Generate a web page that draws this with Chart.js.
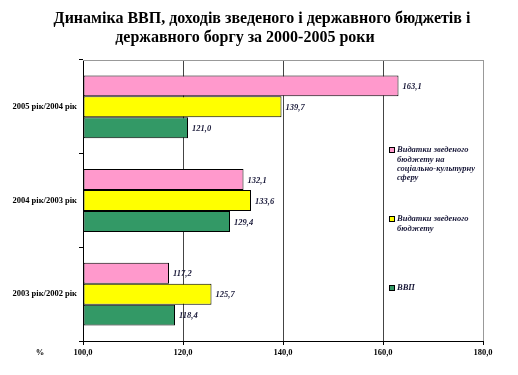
<!DOCTYPE html>
<html>
<head>
<meta charset="utf-8">
<script src="https://cdn.jsdelivr.net/npm/chart.js@4"></script>
<style>
  body { margin: 0; background: #fff; }
  #wrap { width: 518px; height: 375px; }
</style>
</head>
<body>
<div id="wrap"><canvas id="chart" width="518" height="375"></canvas></div>
<script>
// data
const categories = ["2005 рік/2004 рік", "2004 рік/2003 рік", "2003 рік/2002 рік"];
const socialSpending = [163.1, 132.1, 117.2];
const budgetSpending = [139.7, 133.6, 125.7];
const gdp = [121.0, 129.4, 118.4];
const seriesNames = [
  ["Видатки зведеного", "бюджету на", "соціально-культурну", "сферу"],
  ["Видатки зведеного", "бюджету"],
  ["ВВП"]
];
const titleLines = [
  "Динаміка ВВП, доходів зведеного і державного бюджетів і",
  "державного боргу за 2000-2005 роки"
];
const xTicks = [100, 120, 140, 160, 180];
const unitLabel = "%";

const SERIF = "'Liberation Serif', 'Times New Roman', serif";
const INK = "#1a1a3a";

function fmt(v) {
  return v.toFixed(1).replace(".", ",");
}

// value labels at the end of each bar
const barLabels = {
  id: "barLabels",
  afterDatasetsDraw(chart) {
    const ctx = chart.ctx;
    ctx.save();
    ctx.font = "italic bold 8.5px " + SERIF;
    ctx.fillStyle = INK;
    ctx.textBaseline = "middle";
    ctx.textAlign = "left";
    chart.data.datasets.forEach((ds, i) => {
      chart.getDatasetMeta(i).data.forEach((bar, j) => {
        ctx.fillText(fmt(ds.data[j]), bar.x + 4, bar.y + 1);
      });
    });
    ctx.restore();
  }
};

// title, top frame line, "%" unit label and the legend inside the plot
const extras = {
  id: "extras",
  afterDraw(chart) {
    const ctx = chart.ctx;
    const a = chart.chartArea;
    ctx.save();

    ctx.font = "bold 16px " + SERIF;
    ctx.fillStyle = "#000";
    ctx.textAlign = "center";
    ctx.textBaseline = "alphabetic";
    ctx.fillText(titleLines[0], 262, 23);
    ctx.fillText(titleLines[1], 245, 42);

    ctx.strokeStyle = "#999";
    ctx.lineWidth = 1;
    ctx.beginPath();
    ctx.moveTo(a.left, a.top + 0.5);
    ctx.lineTo(a.right, a.top + 0.5);
    ctx.stroke();

    ctx.font = "bold 8.5px " + SERIF;
    ctx.textBaseline = "middle";
    ctx.fillText(unitLabel, 40, a.bottom + 12);

    // legend
    ctx.font = "italic bold 8.5px " + SERIF;
    ctx.textAlign = "left";
    let y = 150;
    chart.data.datasets.forEach((ds, i) => {
      ctx.fillStyle = ds.backgroundColor;
      ctx.fillRect(389, y - 3, 6, 6);
      ctx.strokeStyle = "#000";
      ctx.strokeRect(389.5, y - 2.5, 5, 5);
      ctx.fillStyle = INK;
      seriesNames[i].forEach((line, k) => {
        ctx.fillText(line, 397, y + k * 9.3);
      });
      y += 69;
    });
    ctx.restore();
  }
};

new Chart(document.getElementById("chart"), {
  type: "bar",
  data: {
    labels: categories,
    datasets: [
      { label: seriesNames[0].join(" "), data: socialSpending, backgroundColor: "#FF99CC" },
      { label: seriesNames[1].join(" "), data: budgetSpending, backgroundColor: "#FFFF00" },
      { label: seriesNames[2].join(" "), data: gdp, backgroundColor: "#339966" }
    ]
  },
  options: {
    indexAxis: "y",
    responsive: false,
    animation: false,
    devicePixelRatio: 1,
    layout: { padding: { left: 0, right: 35, top: 60, bottom: 0 } },
    datasets: {
      bar: {
        borderColor: "#000",
        borderWidth: 1,
        borderSkipped: false,
        categoryPercentage: 0.67,
        barPercentage: 1.0,
        base: 100
      }
    },
    scales: {
      x: {
        min: 100,
        max: 180,
        afterFit: s => { s.height = 34; },
        afterBuildTicks: s => { s.ticks = xTicks.map(v => ({ value: v })); },
        ticks: {
          padding: 3,
          color: "#000",
          font: { family: SERIF, size: 8.5, weight: "bold" },
          callback: v => fmt(v)
        },
        grid: {
          color: c => (c.tick && c.tick.value === 180 ? "#999" : "#444"),
          tickColor: "#000",
          tickLength: 4,
          lineWidth: 1
        },
        border: { color: "#000", width: 1 }
      },
      y: {
        offset: true,
        afterFit: s => { s.width = 83; },
        ticks: {
          padding: 2,
          color: "#000",
          font: { family: SERIF, size: 8.5, weight: "bold" }
        },
        grid: {
          offset: true,
          drawOnChartArea: false,
          tickColor: "#000",
          tickLength: 4
        },
        border: { color: "#000", width: 1 }
      }
    },
    plugins: {
      legend: { display: false },
      tooltip: { enabled: false },
      title: { display: false }
    }
  },
  plugins: [barLabels, extras]
});
</script>
</body>
</html>
